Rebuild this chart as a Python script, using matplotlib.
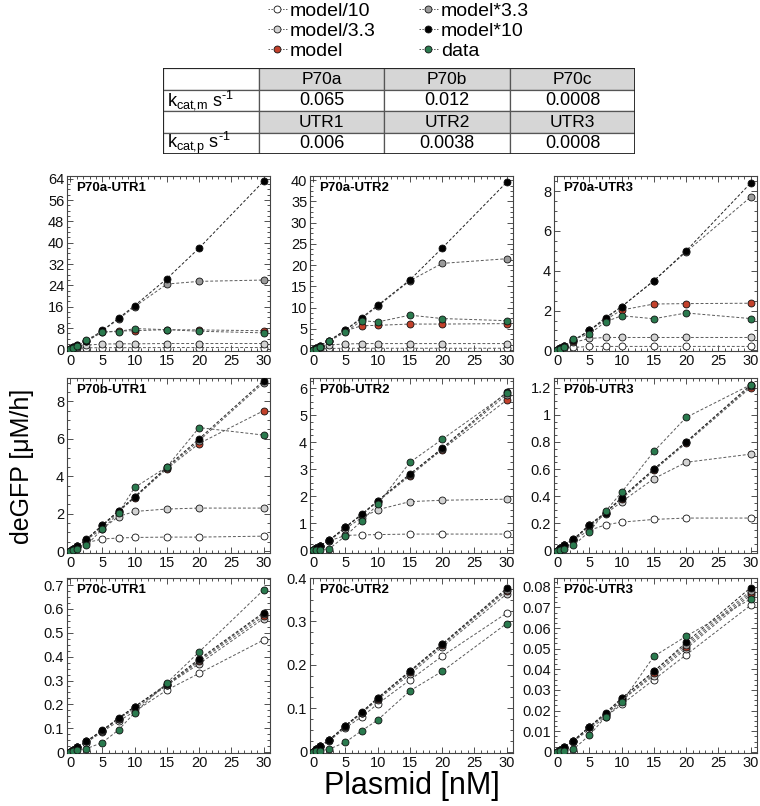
import matplotlib
matplotlib.use('Agg')
import matplotlib.pyplot as plt
from matplotlib.ticker import MultipleLocator, AutoMinorLocator, FuncFormatter
from matplotlib.lines import Line2D
from matplotlib.patches import Rectangle

plt.rcParams['font.family'] = ['Liberation Sans', 'DejaVu Sans']
plt.rcParams['mathtext.fontset'] = 'custom'
plt.rcParams['mathtext.rm'] = 'Liberation Sans'
plt.rcParams['mathtext.it'] = 'Liberation Sans:italic'

# ---------------- data ----------------
plasmid = [0, 0.5, 1, 2.5, 5, 7.5, 10, 15, 20, 30]

series_labels = ['model/10', 'model/3.3', 'model', 'model*3.3', 'model*10', 'data']
series_colors = ['#ffffff', '#d3d3d3', '#c2412b', '#9b9b9b', '#000000', '#2a7a4e']

# P70a-UTR1
a1_div10 = [0, 0.3, 0.45, 0.6, 0.65, 0.65, 0.65, 0.7, 0.7, 0.7]
a1_div3 = [0, 0.6, 1.0, 1.6, 2.0, 2.1, 2.1, 2.2, 2.2, 2.2]
a1_model = [0, 0.8, 1.4, 3.0, 6.5, 6.9, 7.0, 7.4, 7.3, 7.0]
a1_x3 = [0, 0.8, 1.5, 3.0, 7.0, 11.3, 16.0, 24.5, 25.5, 26.0]
a1_x10 = [0, 0.8, 1.5, 3.0, 7.1, 11.7, 16.4, 26.5, 38.0, 63.0]
a1_data = [0, 0.4, 1.1, 3.7, 6.5, 6.7, 7.8, 7.4, 6.8, 6.2]

# P70a-UTR2
a2_div10 = [0, 0.15, 0.25, 0.35, 0.4, 0.4, 0.4, 0.4, 0.4, 0.4]
a2_div3 = [0, 0.4, 0.7, 1.2, 1.4, 1.5, 1.5, 1.5, 1.5, 1.5]
a2_model = [0, 0.5, 0.9, 2.1, 4.5, 5.7, 5.8, 6.1, 6.1, 6.2]
a2_x3 = [0, 0.5, 0.9, 2.2, 4.7, 7.4, 10.3, 16.3, 20.4, 21.5]
a2_x10 = [0, 0.5, 0.9, 2.2, 4.7, 7.6, 10.5, 16.5, 24.0, 39.5]
a2_data = [0, 0.3, 0.8, 2.1, 4.2, 6.9, 6.6, 8.2, 7.4, 6.9]

# P70a-UTR3
a3_div10 = [0, 0.05, 0.1, 0.15, 0.2, 0.2, 0.2, 0.2, 0.2, 0.2]
a3_div3 = [0, 0.1, 0.2, 0.4, 0.6, 0.65, 0.65, 0.65, 0.65, 0.65]
a3_model = [0, 0.1, 0.2, 0.48, 1.0, 1.54, 2.03, 2.33, 2.35, 2.37]
a3_x3 = [0, 0.1, 0.2, 0.5, 1.0, 1.6, 2.2, 3.5, 4.95, 7.7]
a3_x10 = [0, 0.1, 0.2, 0.5, 1.0, 1.65, 2.2, 3.5, 5.0, 8.4]
a3_data = [0, 0.08, 0.18, 0.57, 0.82, 1.44, 1.74, 1.59, 1.88, 1.6]

# P70b-UTR1
b1_div10 = [0, 0.1, 0.2, 0.45, 0.65, 0.7, 0.73, 0.75, 0.75, 0.8]
b1_div3 = [0, 0.12, 0.25, 0.6, 1.2, 1.85, 2.12, 2.25, 2.3, 2.3]
b1_model = [0, 0.12, 0.25, 0.6, 1.35, 2.1, 2.85, 4.4, 5.75, 7.5]
b1_x3 = [0, 0.12, 0.25, 0.62, 1.38, 2.14, 2.9, 4.45, 5.9, 9.0]
b1_x10 = [0, 0.12, 0.25, 0.63, 1.4, 2.16, 2.9, 4.5, 6.0, 9.1]
b1_data = [0, 0.05, 0.12, 0.32, 1.17, 2.04, 3.4, 4.5, 6.6, 6.2]

# P70b-UTR2
b2_div10 = [0, 0.08, 0.15, 0.35, 0.55, 0.57, 0.58, 0.6, 0.6, 0.6]
b2_div3 = [0, 0.08, 0.16, 0.36, 0.8, 1.2, 1.5, 1.8, 1.85, 1.89]
b2_model = [0, 0.08, 0.17, 0.37, 0.85, 1.3, 1.8, 2.75, 3.72, 5.55]
b2_x3 = [0, 0.08, 0.17, 0.37, 0.86, 1.32, 1.82, 2.8, 3.75, 5.75]
b2_x10 = [0, 0.08, 0.17, 0.37, 0.86, 1.33, 1.83, 2.82, 3.77, 5.85]
b2_data = [0, 0.0, 0.02, 0.06, 0.53, 1.08, 1.7, 3.25, 4.1, 5.8]

# P70b-UTR3
b3_div10 = [0, 0.02, 0.04, 0.08, 0.15, 0.19, 0.21, 0.23, 0.24, 0.24]
b3_div3 = [0, 0.02, 0.04, 0.08, 0.18, 0.27, 0.36, 0.53, 0.65, 0.71]
b3_model = [0, 0.02, 0.04, 0.08, 0.19, 0.28, 0.38, 0.59, 0.79, 1.2]
b3_x3 = [0, 0.02, 0.04, 0.083, 0.19, 0.28, 0.39, 0.6, 0.8, 1.21]
b3_x10 = [0, 0.02, 0.04, 0.083, 0.19, 0.28, 0.39, 0.6, 0.8, 1.22]
b3_data = [0, 0.005, 0.01, 0.04, 0.14, 0.29, 0.43, 0.73, 0.98, 1.22]

# P70c-UTR1
c1_div10 = [0, 0.01, 0.02, 0.04, 0.085, 0.13, 0.17, 0.26, 0.33, 0.47]
c1_div3 = [0, 0.01, 0.02, 0.04, 0.09, 0.14, 0.18, 0.28, 0.37, 0.56]
c1_model = [0, 0.01, 0.02, 0.045, 0.09, 0.14, 0.19, 0.28, 0.38, 0.57]
c1_x3 = [0, 0.01, 0.02, 0.045, 0.09, 0.14, 0.19, 0.28, 0.385, 0.58]
c1_x10 = [0, 0.01, 0.02, 0.045, 0.092, 0.143, 0.19, 0.285, 0.39, 0.585]
c1_data = [0, 0.003, 0.008, 0.014, 0.04, 0.093, 0.165, 0.29, 0.42, 0.68]

# P70c-UTR2
c2_div10 = [0, 0.005, 0.01, 0.025, 0.055, 0.08, 0.11, 0.165, 0.22, 0.319]
c2_div3 = [0, 0.006, 0.012, 0.027, 0.058, 0.088, 0.12, 0.178, 0.241, 0.363]
c2_model = [0, 0.006, 0.012, 0.027, 0.06, 0.09, 0.122, 0.183, 0.245, 0.37]
c2_x3 = [0, 0.006, 0.012, 0.027, 0.06, 0.09, 0.123, 0.185, 0.247, 0.373]
c2_x10 = [0, 0.006, 0.012, 0.027, 0.06, 0.091, 0.124, 0.186, 0.248, 0.376]
c2_data = [0, 0.001, 0.002, 0.006, 0.022, 0.048, 0.073, 0.14, 0.185, 0.295]

# P70c-UTR3
c3_div10 = [0, 0.001, 0.002, 0.005, 0.011, 0.017, 0.023, 0.035, 0.047, 0.071]
c3_div3 = [0, 0.001, 0.002, 0.0053, 0.012, 0.018, 0.025, 0.037, 0.05, 0.076]
c3_model = [0, 0.001, 0.0022, 0.0054, 0.012, 0.018, 0.025, 0.038, 0.051, 0.077]
c3_x3 = [0, 0.001, 0.0022, 0.0054, 0.0122, 0.0185, 0.026, 0.039, 0.052, 0.078]
c3_x10 = [0, 0.001, 0.0022, 0.0054, 0.0122, 0.019, 0.026, 0.039, 0.053, 0.0795]
c3_data = [0, 0.0003, 0.0006, 0.0013, 0.0081, 0.017, 0.024, 0.0463, 0.056, 0.074]

panel_titles = ['P70a-UTR1', 'P70a-UTR2', 'P70a-UTR3',
                'P70b-UTR1', 'P70b-UTR2', 'P70b-UTR3',
                'P70c-UTR1', 'P70c-UTR2', 'P70c-UTR3']
panel_series = [
    [a1_div10, a1_div3, a1_model, a1_x3, a1_x10, a1_data],
    [a2_div10, a2_div3, a2_model, a2_x3, a2_x10, a2_data],
    [a3_div10, a3_div3, a3_model, a3_x3, a3_x10, a3_data],
    [b1_div10, b1_div3, b1_model, b1_x3, b1_x10, b1_data],
    [b2_div10, b2_div3, b2_model, b2_x3, b2_x10, b2_data],
    [b3_div10, b3_div3, b3_model, b3_x3, b3_x10, b3_data],
    [c1_div10, c1_div3, c1_model, c1_x3, c1_x10, c1_data],
    [c2_div10, c2_div3, c2_model, c2_x3, c2_x10, c2_data],
    [c3_div10, c3_div3, c3_model, c3_x3, c3_x10, c3_data],
]
panel_ylims = [(-0.6, 65), (-0.25, 41), (-0.03, 8.76),
               (-0.1, 9.25), (-0.1, 6.37), (-0.017, 1.27),
               (-0.004, 0.73), (-0.003, 0.4), (-0.0005, 0.0842)]
panel_ystep = [8, 5, 2, 2, 1, 0.2, 0.1, 0.1, 0.01]
x_ticks = [0, 5, 10, 15, 20, 25, 30]

# table contents
table_row_labels = [r'k$_{\text{cat,m}}$ s$^{\text{-1}}$',
                    r'k$_{\text{cat,p}}$ s$^{\text{-1}}$']
promoters = ['P70a', 'P70b', 'P70c']
kcat_m = ['0.065', '0.012', '0.0008']
utrs = ['UTR1', 'UTR2', 'UTR3']
kcat_p = ['0.006', '0.0038', '0.0008']

# ---------------- figure ----------------
W, H = 760, 806
fig = plt.figure(figsize=(W / 100, H / 100), dpi=100)


def px_axes(l, t, w, h):
    return fig.add_axes([l / W, 1 - (t + h) / H, w / W, h / H])


col_left = [67, 310, 554]
ax_w = 203
row_top = [176, 378, 578]
ax_h = 175

fmt = FuncFormatter(lambda v, p: f'{round(v, 6):g}')

for i in range(9):
    r, c = divmod(i, 3)
    ax = px_axes(col_left[c], row_top[r], ax_w, ax_h)
    for k, ys in enumerate(panel_series[i]):
        lc = '#222222' if k == 4 else '#5a5a5a'
        ax.plot(plasmid, ys, ls=(0, (3, 2)), lw=0.7, color=lc,
                marker='o', ms=5, mfc=series_colors[k], mec='#111111',
                mew=0.6, label=series_labels[k], zorder=2 + k)
    ax.set_xlim(-0.5, 31)
    ax.set_ylim(*panel_ylims[i])
    ax.set_xticks(x_ticks)
    ax.xaxis.set_minor_locator(MultipleLocator(1))
    ax.yaxis.set_major_locator(MultipleLocator(panel_ystep[i]))
    ax.yaxis.set_minor_locator(AutoMinorLocator(4))
    ax.yaxis.set_major_formatter(fmt)
    ax.tick_params(which='both', direction='in', top=True, right=True,
                   labelsize=10.5, width=0.6, colors='#333333',
                   labelcolor='#111111', pad=2)
    ax.tick_params(which='major', length=4)
    ax.tick_params(which='minor', length=2)
    for s in ax.spines.values():
        s.set_linewidth(0.8)
        s.set_color('#444444')
    ax.text(0.045, 0.965, panel_titles[i], transform=ax.transAxes,
            fontsize=9.5, fontweight='bold', va='top', ha='left')

# axis labels
fig.text(22 / W, 1 - 466 / H, 'deGFP [μM/h]', rotation=90, fontsize=18,
         ha='center', va='center')
fig.text(412 / W, 1 - 786 / H, 'Plasmid [nM]', fontsize=22,
         ha='center', va='center')

# legend
handles = [Line2D([0], [0], ls=(0, (1.5, 1.5)), lw=0.7, color='#5a5a5a',
                  marker='o', ms=5, mfc=series_colors[k], mec='#111111',
                  mew=0.6) for k in range(6)]
fig.legend(handles, series_labels, ncol=2, loc='upper left',
           bbox_to_anchor=(258 / W, 1.009), frameon=False, fontsize=14,
           handlelength=1.0, handletextpad=0.15, columnspacing=2.2,
           labelspacing=0.12, borderpad=0.0)

# table
tx0, ty0, tw, th = 163, 68, 472, 86
tax = px_axes(tx0, ty0, tw, th)
tax.set_xlim(0, tw)
tax.set_ylim(th, 0)
tax.axis('off')
col_edges = [0, 96, 221, 347, 472]
row_edges = [0, 21.5, 43, 64.5, 86]
for rr in range(4):
    for cc in range(4):
        x0, x1 = col_edges[cc], col_edges[cc + 1]
        y0, y1 = row_edges[rr], row_edges[rr + 1]
        fc = '#d6d6d6' if (rr in (0, 2) and cc > 0) else 'white'
        tax.add_patch(Rectangle((x0, y0), x1 - x0, y1 - y0, fc=fc,
                                ec='#555555', lw=0.9))
        xc, yc = (x0 + x1) / 2, (y0 + y1) / 2
        if cc == 0:
            if rr == 1:
                tax.text(4, yc, table_row_labels[0], fontsize=13,
                         ha='left', va='center')
            elif rr == 3:
                tax.text(4, yc, table_row_labels[1], fontsize=13,
                         ha='left', va='center')
        else:
            if rr == 0:
                s, fs = promoters[cc - 1], 12.5
            elif rr == 1:
                s, fs = kcat_m[cc - 1], 13
            elif rr == 2:
                s, fs = utrs[cc - 1], 12.5
            else:
                s, fs = kcat_p[cc - 1], 13
            tax.text(xc, yc + 0.5, s, fontsize=fs, ha='center', va='center')
tax.add_patch(Rectangle((0, 0), tw, th, fc='none', ec='#222222', lw=1.3))

fig.savefig('out.png', dpi=100)
